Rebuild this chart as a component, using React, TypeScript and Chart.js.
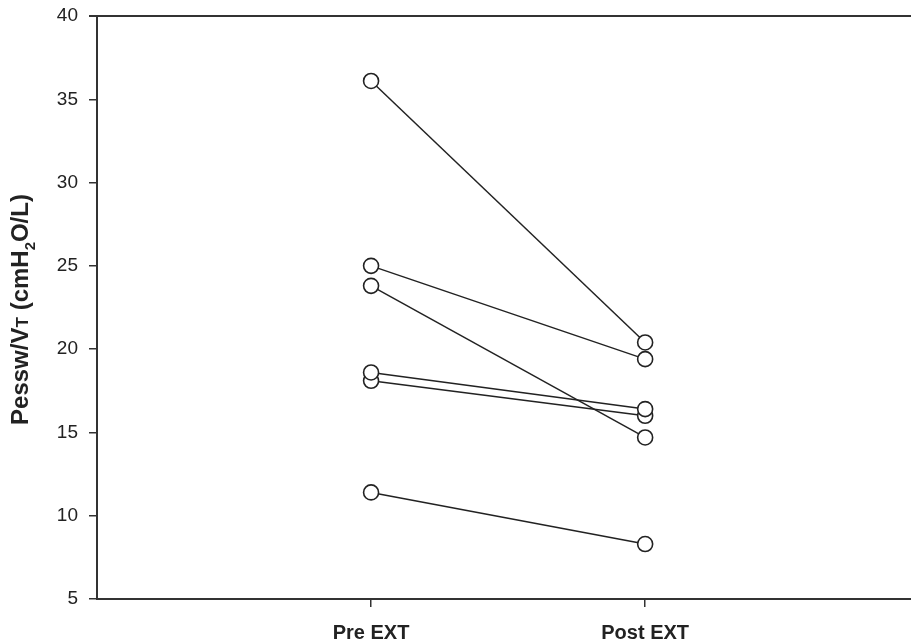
import React, { useEffect, useRef } from "react";
import { Chart, registerables } from "chart.js";

Chart.register(...registerables);

const categories = ["Pre EXT", "Post EXT"];
const preValues = [36.1, 25.0, 23.8, 18.6, 18.1, 11.4];
const postValues = [20.4, 19.4, 14.7, 16.4, 16.0, 8.3];
const yMin = 5;
const yMax = 40;
const yStep = 5;

const FONT = '"Liberation Sans", Arial, Helvetica, sans-serif';
const INK = "#222";

const titlePieces: { text: string; scale: number; shift: number }[] = [
  { text: "Pessw/V", scale: 1, shift: 0 },
  { text: "T", scale: 0.72, shift: 0.02 },
  { text: " (cmH", scale: 1, shift: 0 },
  { text: "2", scale: 0.62, shift: 0.3 },
  { text: "O/L)", scale: 1, shift: 0 },
];

const framePlugin = {
  id: "frameAndTitle",
  afterDraw(chart: any) {
    const { ctx, chartArea } = chart;
    ctx.save();
    // top frame line
    ctx.strokeStyle = "#333";
    ctx.lineWidth = 2;
    ctx.beginPath();
    ctx.moveTo(chartArea.left - 8, chartArea.top);
    ctx.lineTo(chartArea.right, chartArea.top);
    ctx.stroke();

    // rotated y-axis title with subscripts
    const size = 24;
    const cy = (chartArea.top + chartArea.bottom) / 2 + 2;
    const cx = 28;
    ctx.translate(cx, cy);
    ctx.rotate(-Math.PI / 2);
    ctx.fillStyle = INK;
    ctx.textBaseline = "alphabetic";
    ctx.textAlign = "left";
    let total = 0;
    const widths = titlePieces.map((p) => {
      ctx.font = `bold ${size * p.scale}px ${FONT}`;
      const w = ctx.measureText(p.text).width;
      total += w;
      return w;
    });
    let x = -total / 2;
    titlePieces.forEach((p, i) => {
      ctx.font = `bold ${size * p.scale}px ${FONT}`;
      ctx.fillText(p.text, x, p.shift * size);
      x += widths[i];
    });
    ctx.restore();
  },
};

export default function App() {
  const ref = useRef<HTMLCanvasElement | null>(null);

  useEffect(() => {
    if (!ref.current) return;
    const datasets = preValues.map((pre, i) => ({
      label: `Subject ${i + 1}`,
      data: [
        { x: 1, y: pre },
        { x: 2, y: postValues[i] },
      ],
      borderColor: INK,
      borderWidth: 1.5,
      pointRadius: 7.5,
      pointBorderWidth: 1.6,
      pointBackgroundColor: "#fff",
      pointBorderColor: INK,
      showLine: true,
      fill: false,
      clip: false,
    }));

    const chart = new Chart(ref.current, {
      type: "scatter",
      data: { datasets },
      options: {
        animation: false,
        responsive: false,
        devicePixelRatio: 1,
        layout: { autoPadding: false, padding: { top: 16, left: 0, right: 0, bottom: 0 } },
        plugins: {
          legend: { display: false },
          tooltip: { enabled: false },
          title: { display: false },
        },
        scales: {
          x: {
            type: "linear",
            min: 0,
            max: 2.97,
            afterBuildTicks: (scale: any) => {
              scale.ticks = categories.map((_, i) => ({ value: i + 1 }));
            },
            afterFit: (scale: any) => {
              scale.height = 41;
              scale.paddingLeft = 0;
              scale.paddingRight = 0;
            },
            ticks: {
              callback: (v: any) => categories[Number(v) - 1] ?? "",
              font: { family: FONT, size: 20, weight: "bold" },
              color: INK,
              padding: 14,
              maxRotation: 0,
              autoSkip: false,
            },
            grid: {
              drawOnChartArea: false,
              drawTicks: true,
              tickLength: 8,
              color: "#333",
              lineWidth: 1.5,
            },
            border: { display: true, color: "#333", width: 2 },
          },
          y: {
            type: "linear",
            min: yMin,
            max: yMax,
            afterFit: (scale: any) => {
              scale.width = 97;
              scale.paddingTop = 0;
              scale.paddingBottom = 0;
            },
            ticks: {
              stepSize: yStep,
              font: { family: FONT, size: 19 },
              color: INK,
              padding: 11,
            },
            grid: {
              drawOnChartArea: false,
              drawTicks: true,
              tickLength: 8,
              color: "#333",
              lineWidth: 1.5,
            },
            border: { display: true, color: "#333", width: 2 },
          },
        },
      },
      plugins: [framePlugin],
    });
    return () => chart.destroy();
  }, []);

  return (
    <div style={{ position: "fixed", left: 0, top: 0, width: 911, height: 640, background: "#fff" }}>
      <canvas ref={ref} width={911} height={640} style={{ display: "block" }} />
    </div>
  );
}
